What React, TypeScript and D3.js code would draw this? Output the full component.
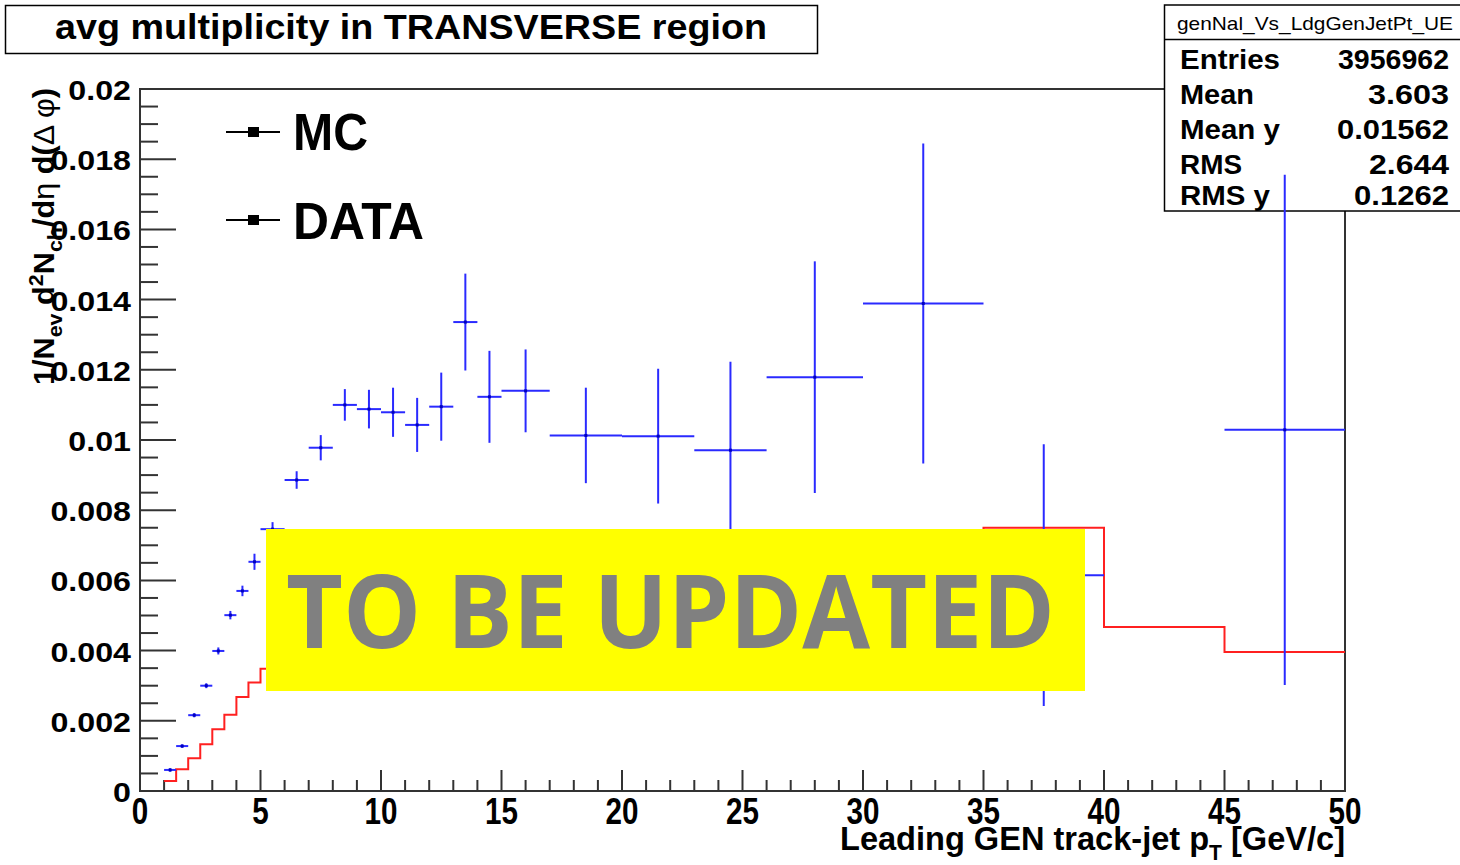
import React from "react";
import * as d3 from "d3";

const binEdges = [1, 1.5, 2, 2.5, 3, 3.5, 4, 4.5, 5, 6, 7, 8, 9, 10, 11, 12, 13, 14, 15, 17, 20, 23, 26, 30, 35, 40, 45, 50];
const mcValues = [0.000285, 0.00062, 0.00093, 0.00133, 0.00176, 0.00217, 0.00268, 0.00309, 0.00348, 0.0040, 0.0045, 0.0049, 0.0053, 0.0056, 0.0059, 0.0061, 0.0063, 0.0065, 0.0066, 0.0068, 0.0069, 0.0070, 0.0071, 0.0072, 0.0075, 0.00467, 0.00396];
const dataValues: (number | null)[] = [0.0006, 0.00128, 0.00216, 0.0030, 0.00399, 0.00501, 0.0057, 0.00653, 0.00746, 0.00886, 0.00978, 0.0110, 0.01088, 0.01079, 0.01043, 0.01095, 0.01336, 0.01123, 0.0114, 0.01013, 0.01011, 0.00971, 0.01179, 0.01389, 0.00615, null, 0.01029];
const dataErrors = [0.00005, 0.00005, 0.00006, 0.00007, 0.0001, 0.00012, 0.00015, 0.00023, 0.0002, 0.00025, 0.00036, 0.00045, 0.00055, 0.0007, 0.00077, 0.00097, 0.00138, 0.00131, 0.00118, 0.00136, 0.00192, 0.00252, 0.0033, 0.00456, 0.00373, 0, 0.00727];

const yTickValues = [0, 0.002, 0.004, 0.006, 0.008, 0.01, 0.012, 0.014, 0.016, 0.018, 0.02];
const yTickLabels = ["0", "0.002", "0.004", "0.006", "0.008", "0.01", "0.012", "0.014", "0.016", "0.018", "0.02"];
const xTickValues = [0, 5, 10, 15, 20, 25, 30, 35, 40, 45, 50];
const xTickLabels = ["0", "5", "10", "15", "20", "25", "30", "35", "40", "45", "50"];

const statsTitle = "genNal_Vs_LdgGenJetPt_UE";
const statsLabels = ["Entries", "Mean", "Mean y", "RMS", "RMS y"];
const statsValues = ["3956962", "3.603", "0.01562", "2.644", "0.1262"];
const statsLabelWidths = [100, 74, 100, 62, 90];
const statsValueWidths = [111, 81, 112, 80, 95];
const statsBaselines = [69, 104, 139, 173.5, 205];

const legendItems = ["MC", "DATA"];
const legendWidths = [75, 131];
const titleText = "avg multiplicity in TRANSVERSE region";

const W = 1460, H = 865;
const L = 140, R = 1345, T = 89, B = 791;
const FONT = "'Liberation Sans', Arial, Helvetica, sans-serif";

export default function App() {
  const x = d3.scaleLinear().domain([0, 50]).range([L, R]);
  const y = d3.scaleLinear().domain([0, 0.02]).range([B, T]);

  const yMinor = d3.range(0, 0.02 + 1e-9, 0.0005);
  const xMinor = d3.range(0, 51, 1);

  const stepPts: [number, number][] = [];
  mcValues.forEach((v, i) => {
    stepPts.push([binEdges[i], v]);
    stepPts.push([binEdges[i + 1], v]);
  });
  const stepPath = d3.line<[number, number]>().x(d => x(d[0])).y(d => y(d[1]))(stepPts) || "";

  const blue = "#2a2aff";

  return (
    <svg width={W} height={H} style={{ position: "absolute", left: 0, top: 0, background: "#fff" }}>
      <rect x={0} y={0} width={W} height={H} fill="#fff" />
      {/* frame */}
      <rect x={L} y={T} width={R - L} height={B - T} fill="none" stroke="#333" strokeWidth={2} />
      {/* y ticks */}
      {yMinor.map((v, i) => {
        const major = i % 4 === 0;
        return <line key={"yt" + i} x1={L} x2={L + (major ? 36 : 18)} y1={y(v)} y2={y(v)} stroke="#333" strokeWidth={2} />;
      })}
      {xMinor.map((v, i) => {
        const major = i % 5 === 0;
        return <line key={"xt" + i} x1={x(v)} x2={x(v)} y1={B} y2={B - (major ? 21 : 11)} stroke="#333" strokeWidth={2} />;
      })}
      {/* y tick labels */}
      {yTickValues.map((v, i) => (
        <text key={"yl" + i} transform={`translate(131,${y(v) + 11}) scale(1.15,1)`} textAnchor="end" fontFamily={FONT} fontWeight="bold" fontSize={28} fill="#000">{yTickLabels[i]}</text>
      ))}
      {/* x tick labels */}
      {xTickValues.map((v, i) => (
        <text key={"xl" + i} transform={`translate(${x(v)},824) scale(0.8,1)`} textAnchor="middle" fontFamily={FONT} fontWeight="bold" fontSize={37} fill="#000">{xTickLabels[i]}</text>
      ))}
      {/* axis titles */}
      <text x={R} y={850} textAnchor="end" fontFamily={FONT} fontWeight="bold" fontSize={34} textLength={505} lengthAdjust="spacingAndGlyphs">
        Leading GEN track-jet p<tspan dy={10} fontSize={22}>T</tspan><tspan dy={-10}> [GeV/c]</tspan>
      </text>
      <text transform="translate(54,88) rotate(-90)" textAnchor="end" fontFamily={FONT} fontWeight="bold" fontSize={30} textLength={297} lengthAdjust="spacingAndGlyphs">
        1/N<tspan dy={8} fontSize={21}>ev</tspan><tspan dy={-8}> d</tspan><tspan dy={-11} fontSize={21}>2</tspan><tspan dy={11}>N</tspan><tspan dy={8} fontSize={21}>ch</tspan><tspan dy={-8}>/d</tspan><tspan fontWeight="normal">η</tspan><tspan> d(</tspan><tspan fontWeight="normal">Δ φ</tspan><tspan>)</tspan>
      </text>

      {/* stats box */}
      <rect x={1164.5} y={5} width={310} height={206} fill="#fff" stroke="#000" strokeWidth={1.5} />
      <line x1={1164.5} x2={1460} y1={39.5} y2={39.5} stroke="#000" strokeWidth={1.5} />
      <text x={1177} y={30} fontFamily={FONT} fontSize={19} textLength={276} lengthAdjust="spacingAndGlyphs">{statsTitle}</text>
      {statsLabels.map((s, i) => (
        <g key={"st" + i}>
          <text x={1180} y={statsBaselines[i]} fontFamily={FONT} fontWeight="bold" fontSize={27} textLength={statsLabelWidths[i]} lengthAdjust="spacingAndGlyphs">{s}</text>
          <text x={1449} y={statsBaselines[i]} textAnchor="end" fontFamily={FONT} fontWeight="bold" fontSize={27} textLength={statsValueWidths[i]} lengthAdjust="spacingAndGlyphs">{statsValues[i]}</text>
        </g>
      ))}

      {/* MC histogram */}
      <path d={stepPath} fill="none" stroke="#ff2020" strokeWidth={2} />

      {/* DATA points */}
      {dataValues.map((v, i) => {
        if (v === null) return null;
        const lo = binEdges[i], hi = binEdges[i + 1];
        const cx = x((lo + hi) / 2), cy = y(v);
        return (
          <g key={"dp" + i}>
            <line x1={x(lo)} x2={x(hi)} y1={cy} y2={cy} stroke={blue} strokeWidth={2} />
            <line x1={cx} x2={cx} y1={y(v + dataErrors[i])} y2={y(Math.max(0, v - dataErrors[i]))} stroke={blue} strokeWidth={2} />
            <rect x={cx - 1.5} y={cy - 1.5} width={3} height={3} fill="#0000c0" />
          </g>
        );
      })}

      {/* overlay */}
      <rect x={266} y={529} width={819} height={162} fill="#ffff00" />
      <text x={286} y={648} fontFamily="'Open Sans', 'Noto Sans', sans-serif" fontWeight="bold" fontSize={102} fill="#808080" textLength={769} lengthAdjust="spacingAndGlyphs">TO BE UPDATED</text>

      {/* legend */}
      {legendItems.map((s, i) => {
        const ly = i === 0 ? 132 : 220;
        const ty = i === 0 ? 150 : 239;
        return (
          <g key={"lg" + i}>
            <line x1={226} x2={280} y1={ly} y2={ly} stroke="#000" strokeWidth={2} />
            <rect x={248} y={ly - 5} width={11} height={10} fill="#000" />
            <text x={293} y={ty} fontFamily={FONT} fontWeight="bold" fontSize={52} textLength={legendWidths[i]} lengthAdjust="spacingAndGlyphs">{s}</text>
          </g>
        );
      })}

      {/* title */}
      <rect x={5.5} y={5.5} width={812} height={48} fill="#fff" stroke="#000" strokeWidth={1.5} />
      <text x={55} y={39} fontFamily={FONT} fontWeight="bold" fontSize={35} textLength={712} lengthAdjust="spacingAndGlyphs">{titleText}</text>
    </svg>
  );
}
